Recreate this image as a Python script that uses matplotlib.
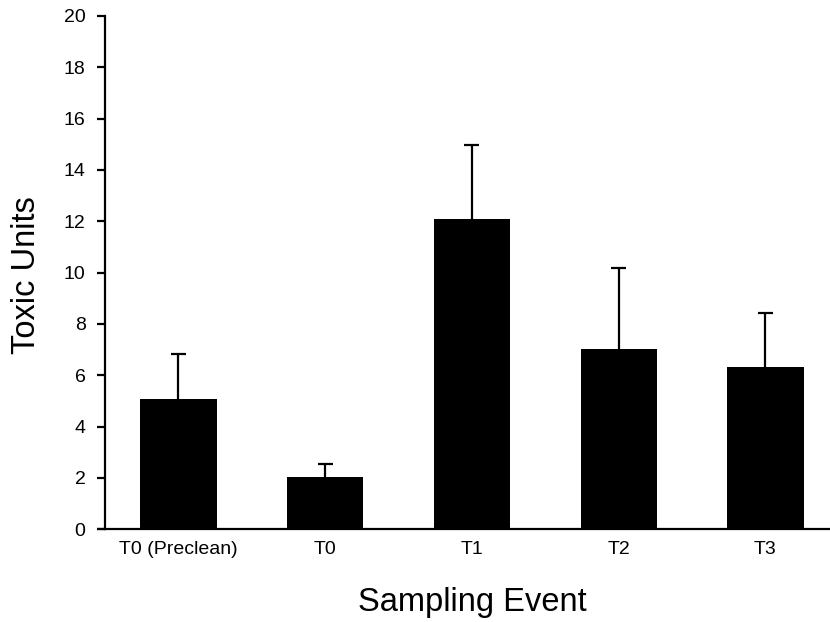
import matplotlib
matplotlib.use("Agg")
import matplotlib.pyplot as plt

categories = ["T0 (Preclean)", "T0", "T1", "T2", "T3"]
means = [5.07, 2.02, 12.09, 7.02, 6.32]
upper = [6.83, 2.55, 14.96, 10.2, 8.41]
yticks = [0, 2, 4, 6, 8, 10, 12, 14, 16, 18, 20]

plt.rcParams['font.family'] = ['Liberation Sans', 'DejaVu Sans']

fig = plt.figure(figsize=(8.3, 6.22), dpi=100)
ax = fig.add_axes([105/830, (622-529.3)/622, 1 - 105/830, (529.3-16)/622])

x = list(range(len(categories)))
ax.bar(x, means, width=0.52, color='black', zorder=2)
# upper-only error bars with caps
cap_half = 0.051
ax.vlines(x, means, upper, colors='black', linewidth=1.6, zorder=1)
ax.hlines(upper, [xi - cap_half for xi in x], [xi + cap_half for xi in x],
          colors='black', linewidth=1.6, zorder=1)

ax.set_xlim(-0.5, 4.44)
ax.set_ylim(0, 20)
ax.set_yticks(yticks)
ax.set_xticks(x)
ax.set_xticklabels(categories)

for s in ['top', 'right']:
    ax.spines[s].set_visible(False)
for s in ['left', 'bottom']:
    ax.spines[s].set_linewidth(1.6)

ax.tick_params(axis='y', length=5.5, width=1.6, pad=8.5, labelsize=14)
ax.tick_params(axis='x', length=0, pad=8.5, labelsize=14)

# extend baseline slightly left of y axis like reference
ax.plot([-0.011, 0], [0, 0], transform=ax.transAxes, color='black', lw=1.6,
        clip_on=False, solid_capstyle='butt')

ax.set_ylabel("Toxic Units", fontsize=23.5)
ax.set_xlabel("Sampling Event", fontsize=23.5)
ax.yaxis.set_label_coords((35-105)/725, (529.3-275)/513.3)
ax.yaxis.label.set_va('baseline')
ax.xaxis.set_label_coords((472-105)/725, -(611-529.3)/513.3)
ax.xaxis.label.set_va('baseline')

fig.savefig("out.png", dpi=100)
